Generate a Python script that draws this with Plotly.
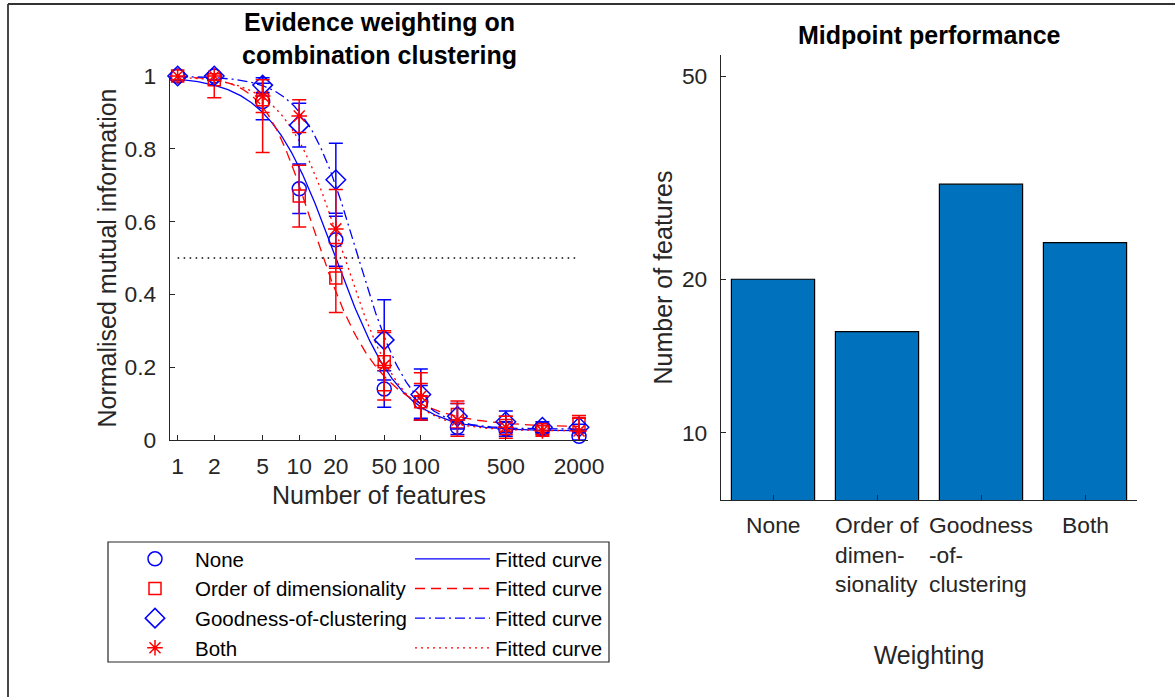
import numpy as np
import plotly.graph_objects as go

W, H = 1175, 697
FONT = "Liberation Sans, Arial, Helvetica, sans-serif"
AX = "#262626"

# ---------------- data ----------------
n_features = [1, 2, 5, 10, 20, 50, 100, 200, 500, 1000, 2000]

nmi_none = [1.0, 1.0, 0.93, 0.69, 0.55, 0.14, 0.105, 0.035, 0.03, 0.03, 0.01]
err_none = [0.012, 0.01, 0.05, 0.068, 0.073, 0.05, 0.045, 0.02, 0.02, 0.01, 0.01]

nmi_order = [1.0, 0.99, 0.935, 0.67, 0.445, 0.215, 0.105, 0.07, 0.04, 0.03, 0.045]
err_order = [0.012, 0.05, 0.145, 0.085, 0.095, 0.08, 0.05, 0.037, 0.025, 0.015, 0.022]

nmi_good = [1.0, 1.0, 0.975, 0.865, 0.715, 0.275, 0.125, 0.065, 0.05, 0.035, 0.035]
err_good = [0.012, 0.012, 0.02, 0.06, 0.1, 0.11, 0.07, 0.035, 0.03, 0.015, 0.008]

nmi_both = [1.0, 1.0, 0.945, 0.89, 0.58, 0.205, 0.12, 0.055, 0.035, 0.025, 0.025]
err_both = [0.01, 0.012, 0.045, 0.045, 0.108, 0.095, 0.065, 0.045, 0.03, 0.015, 0.035]

series_names = ["None", "Order of dimensionality", "Goodness-of-clustering", "Both"]
bar_labels = ["None", "Order of<br>dimen-<br>sionality", "Goodness<br>-of-<br>clustering", "Both"]

# midpoint (number of features at NMI = 0.5) for each weighting
midpoints = [20.0, 15.8, 30.7, 23.6]

# fitted sigmoid parameters per series (slope, asymmetry, floor)
fit_slope = [1.6, 2.5, 2.0, 1.8]
fit_asym = [1.0, 0.45, 1.0, 1.0]
fit_floor = [0.025, 0.035, 0.03, 0.025]
fit_top = [1.0, 1.0, 1.0, 1.0]

threshold = 0.5

# ---------------- styles ----------------
colors = ["#0000FF", "#FF0000", "#0000FF", "#FF0000"]
symbols = ["circle-open", "square-open", "diamond-open", "asterisk-open"]
msizes = [14, 12, 15, 13]
dashes = ["solid", "10px,6px", "10px,4px,2px,4px", "2px,4px"]

values = [nmi_none, nmi_order, nmi_good, nmi_both]
errors = [err_none, err_order, err_good, err_both]

fig = go.Figure()

# threshold line
fig.add_trace(go.Scatter(
    x=[n_features[0], n_features[-1]], y=[threshold, threshold], mode="lines",
    line=dict(color="#000000", width=1.3, dash="1.5px,4.5px"),
    showlegend=False, hoverinfo="skip", xaxis="x", yaxis="y"))

# fitted curves
xf = np.logspace(np.log10(n_features[0]), np.log10(n_features[-1]), 400)
for i in range(4):
    b, t, h, s, m = fit_floor[i], fit_top[i], fit_slope[i], fit_asym[i], midpoints[i]
    w = ((t - b) / (threshold - b)) ** (1.0 / s) - 1.0
    c = m / w ** (1.0 / h)
    yf = b + (t - b) / (1.0 + (xf / c) ** h) ** s
    fig.add_trace(go.Scatter(
        x=xf, y=yf, mode="lines", name="Fitted curve",
        line=dict(color=colors[i], width=1.3, dash=dashes[i]),
        legend="legend2", xaxis="x", yaxis="y"))

# data with error bars
for i in range(4):
    fig.add_trace(go.Scatter(
        x=n_features, y=values[i], mode="markers", name=series_names[i],
        marker=dict(symbol=symbols[i], size=msizes[i], color=colors[i],
                    line=dict(color=colors[i], width=1.5)),
        error_y=dict(type="data", array=errors[i], visible=True,
                     color=colors[i], thickness=1.5, width=7),
        cliponaxis=False, legend="legend", xaxis="x", yaxis="y"))

# bar chart
fig.add_trace(go.Bar(
    x=series_names, y=midpoints, width=0.8,
    marker=dict(color="#0072BD", line=dict(color="#000000", width=1.2)),
    showlegend=False, xaxis="x2", yaxis="y2"))

def px_x(p):
    return p / W

def px_y(p):
    return 1 - p / H

tickfont = dict(family=FONT, size=22.8, color=AX)
titlefont = dict(family=FONT, size=25, color=AX)

common = dict(showgrid=False, zeroline=False, showline=True, linecolor=AX,
              linewidth=1.3, ticks="inside", ticklen=5, tickwidth=1.2,
              tickcolor=AX, tickfont=tickfont, automargin=False)

annotations = []
annotations.append(dict(
    text="<b>Evidence weighting on<br>combination clustering</b>",
    x=px_x(379), y=px_y(38.5), xref="paper", yref="paper",
    xanchor="center", yanchor="middle", showarrow=False,
    font=dict(family=FONT, size=25, color="#000000")))
annotations.append(dict(
    text="<b>Midpoint performance</b>",
    x=px_x(929), y=px_y(35), xref="paper", yref="paper",
    xanchor="center", yanchor="middle", showarrow=False,
    font=dict(family=FONT, size=25, color="#000000")))
for cat, lab in zip(series_names, bar_labels):
    annotations.append(dict(
        text=lab, x=cat, y=px_y(510), xref="x2", yref="paper",
        xanchor="center", yanchor="top", align="left", showarrow=False,
        font=tickfont))

shapes = [
    dict(type="rect", xref="paper", yref="paper",
         x0=px_x(108), x1=px_x(609), y0=px_y(662), y1=px_y(542),
         line=dict(color=AX, width=1.2), fillcolor="rgba(255,255,255,0)"),
    dict(type="line", xref="paper", yref="paper",
         x0=px_x(8), x1=1, y0=px_y(4), y1=px_y(4),
         line=dict(color="#333333", width=1.8)),
    dict(type="line", xref="paper", yref="paper",
         x0=px_x(8), x1=px_x(8), y0=0, y1=px_y(4),
         line=dict(color="#333333", width=1.8)),
]

legfont = dict(family=FONT, size=20.5, color="#000000")

fig.update_layout(
    width=W, height=H, autosize=False,
    margin=dict(l=0, r=0, t=0, b=0, pad=0, autoexpand=False),
    paper_bgcolor="white", plot_bgcolor="white",
    font=dict(family=FONT, color=AX),
    xaxis=dict(type="log", range=[-0.063, 3.375],
               domain=[px_x(170), px_x(588)], anchor="y",
               tickvals=[1, 2, 5, 10, 20, 50, 100, 500, 2000],
               ticktext=["1", "2", "5", "10", "20", "50", "100", "500", "2000"],
               ticklabelstandoff=5,
               title=dict(text="Number of features", font=titlefont, standoff=8),
               **common),
    yaxis=dict(range=[0, 1], domain=[px_y(440), px_y(76)], anchor="x",
               tickvals=[0, 0.2, 0.4, 0.6, 0.8, 1],
               ticktext=["0", "0.2", "0.4", "0.6", "0.8", "1"],
               ticklabelstandoff=8,
               title=dict(text="Normalised mutual information", font=titlefont, standoff=0),
               **common),
    xaxis2=dict(type="category", range=[-0.5, 3.5],
                domain=[px_x(721), px_x(1137)], anchor="y2",
                showticklabels=False,
                title=dict(text="Weighting", font=titlefont, standoff=146),
                **common),
    yaxis2=dict(type="log", range=[0.8688, 1.7401],
                domain=[px_y(500), px_y(55)], anchor="x2",
                tickvals=[10, 20, 50], ticktext=["10", "20", "50"],
                ticklabelstandoff=8,
                title=dict(text="Number of features", font=titlefont, standoff=2),
                **common),
    legend=dict(x=px_x(115), y=px_y(539), xanchor="left", yanchor="top",
                bgcolor="rgba(0,0,0,0)", borderwidth=0, font=legfont,
                tracegroupgap=0, itemwidth=70),
    legend2=dict(x=px_x(410), y=px_y(539), xanchor="left", yanchor="top",
                 bgcolor="rgba(0,0,0,0)", borderwidth=0, font=legfont,
                 tracegroupgap=0, itemwidth=75),
    annotations=annotations, shapes=shapes,
    bargap=0.2,
)

fig.write_html("out.html")
